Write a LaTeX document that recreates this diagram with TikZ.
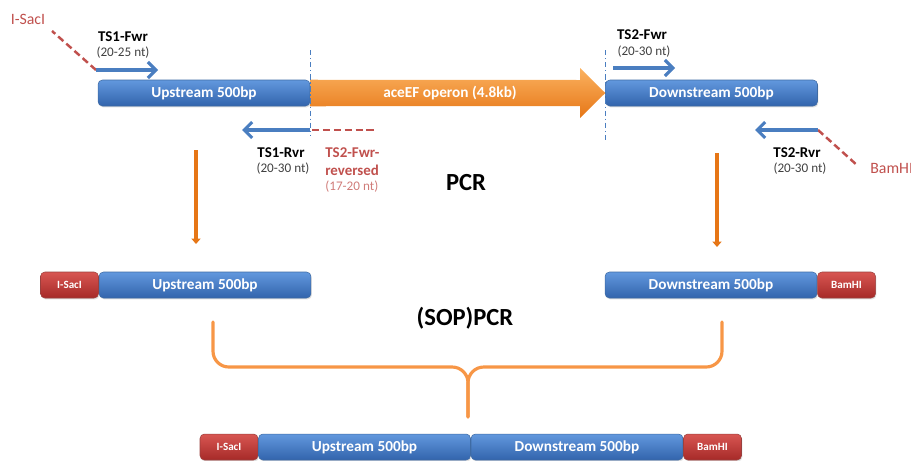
\documentclass[tikz,border=0pt]{standalone}
\usepackage{fontspec}
\setmainfont{Carlito}
\usetikzlibrary{arrows.meta, positioning, calc, shadows}
\definecolor{barblue}{RGB}{74,126,192}
\definecolor{barbluetop}{RGB}{98,152,222}
\definecolor{barbluebot}{RGB}{50,100,172}
\definecolor{opertop}{RGB}{251,178,96}
\definecolor{operbot}{RGB}{230,118,22}
\definecolor{sitered}{RGB}{192,80,77}
\definecolor{siteredtop}{RGB}{216,86,82}
\definecolor{siteredbot}{RGB}{166,42,40}
\definecolor{bracelt}{RGB}{247,150,70}
\definecolor{notegray}{RGB}{64,64,64}

\tikzset{
  bar/.style={rounded corners=2.5pt, top color=barbluetop, bottom color=barbluebot,
    draw=barblue!85!black, line width=0.3pt, text=white, inner sep=0pt,
    minimum width=4.24cm, minimum height=0.52cm,
    font=\fontsize{8.7}{10}\selectfont\bfseries,
    drop shadow={shadow xshift=0.5pt, shadow yshift=-0.8pt, opacity=0.25}},
  site/.style={bar, top color=siteredtop, bottom color=siteredbot, draw=sitered!80!black,
    minimum width=1.16cm, font=\fontsize{6.3}{7}\selectfont\bfseries},
  primer/.style={barblue, line width=1.8pt, -{Straight Barb[length=4.5pt, width=9pt]}},
  sitedash/.style={sitered, line width=1.4pt, dash pattern=on 4pt off 2.2pt},
  cutline/.style={barblue, line width=0.8pt, dash pattern=on 3pt off 1.6pt on 0.7pt off 1.6pt},
  pcrarrow/.style={operbot, line width=2.2pt, -{Triangle[length=3pt, width=5pt]}},
  pname/.style={font=\fontsize{8.5}{10}\selectfont\bfseries, inner sep=0pt},
  plen/.style={font=\fontsize{7.5}{9}\selectfont, text=notegray, inner sep=0pt},
  step label/.style={font=\fontsize{14}{16}\selectfont\bfseries, inner sep=0pt}
}

\begin{document}
\begin{tikzpicture}[x=0.02cm, y=-0.02cm]
    \useasboundingbox (0,0) rectangle (911,460);

    % ==== Template: upstream -- operon -- downstream ====
    \node[bar] (up1) at (204,93) {Upstream 500bp};
    \node[bar] (dn1) at (711.5,93) {Downstream 500bp};
    \shade[top color=opertop, bottom color=operbot]
        (up1.north east) -- (580,80) -- (580,68) -- (dn1.west) -- (580,118) -- (580,106)
        -- (up1.south east) -- cycle;
    \node[font=\fontsize{8.7}{10}\selectfont\bfseries, white] (oper) at (450,93) {aceEF operon (4.8kb)};

    % cut positions
    \draw[cutline] (up1.east) ++(0,-43) -- ++(0,86);
    \draw[cutline] (dn1.west) ++(0,-43) -- ++(0,90);

    % ==== TS1 primers ====
    \coordinate (f1s) at (96,70);
    \coordinate (f1e) at (158,70);
    \coordinate (sac1) at (52,31);
    \draw[sitedash] (f1s) -- (sac1);
    \draw[primer] (f1s) -- (f1e);
    \node[sitered, font=\fontsize{9}{10}\selectfont, inner sep=0pt] (sacl) at (28,19) {I-SacI};
    \node[pname] (f1n) at (123,37) {TS1-Fwr};
    \node[plen] (f1l) at (123,53) {(20-25 nt)};

    \coordinate (r1s) at (310,130);
    \coordinate (r1e) at (242,130);
    \draw[primer] (r1s) -- (r1e);
    \draw[sitedash] (312,130) -- (376,130);
    \node[pname] (r1n) at (281,153) {TS1-Rvr};
    \node[plen] (r1l) at (283,169) {(20-30 nt)};
    \node[pname, sitered, anchor=west] (f2rn) at (325,153) {TS2-Fwr-};
    \node[pname, sitered, anchor=west] (f2rr) at (325,170) {reversed};
    \node[plen, text=sitered!75, anchor=west] (f2rl) at (325,187) {(17-20 nt)};

    % ==== TS2 primers ====
    \coordinate (f2s) at (613,68);
    \coordinate (f2e) at (675,68);
    \draw[primer] (f2s) -- (f2e);
    \node[pname] (f2n) at (642,35) {TS2-Fwr};
    \node[plen] (f2l) at (644,52) {(20-30 nt)};

    \coordinate (r2s) at (818,130);
    \coordinate (r2e) at (755,130);
    \coordinate (bam1) at (858,166);
    \draw[sitedash] (r2s) -- (bam1);
    \draw[primer] (r2s) -- (r2e);
    \node[sitered, font=\fontsize{9}{10}\selectfont, inner sep=0pt, anchor=west] (baml) at (870,168) {BamHI};
    \node[pname] (r2n) at (797,153) {TS2-Rvr};
    \node[plen] (r2l) at (800,169) {(20-30 nt)};

    % ==== PCR step ====
    \node[step label] (pcr) at (466,183) {PCR};
    \coordinate (pl1) at (196,150);
    \coordinate (pl2) at (196,244);
    \coordinate (pr1) at (717,153);
    \coordinate (pr2) at (717,247);
    \draw[pcrarrow] (pl1) -- (pl2);
    \draw[pcrarrow] (pr1) -- (pr2);

    % PCR products
    \node[bar] (up2) at (205,285) {Upstream 500bp};
    \node[site, left=0pt of up2] (sac2) {I-SacI};
    \node[bar] (dn2) at (711,285) {Downstream 500bp};
    \node[site, right=0pt of dn2] (bam2) {BamHI};

    % ==== SOE PCR step ====
    \node[step label] (sop) at (465,318) {(SOP)PCR};
    \coordinate (bl) at (213,322);
    \coordinate (br) at (722,322);
    \coordinate (bm) at (468,367);
    \coordinate (bt) at (468,417);
    \draw[bracelt, line width=1.8pt, line cap=round, rounded corners=9pt]
        (bl) -- (bl |- bm) -- (bm) -- (bt);
    \draw[bracelt, line width=1.8pt, line cap=round, rounded corners=9pt]
        (br) -- (br |- bm) -- (bm) -- (bt);

    % fused product
    \node[site] (sac3) at (229,447) {I-SacI};
    \node[bar, right=0pt of sac3] (up3) {Upstream 500bp};
    \node[bar, right=0pt of up3] (dn3) {Downstream 500bp};
    \node[site, right=0pt of dn3] (bam3) {BamHI};
\end{tikzpicture}
\end{document}
